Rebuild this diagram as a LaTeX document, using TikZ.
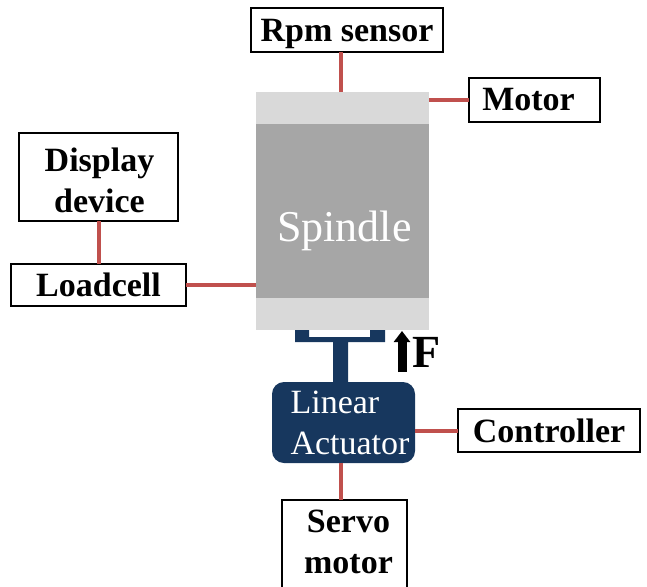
\documentclass[tikz,border=0pt]{standalone}
\usepackage{fontspec}
\setmainfont{Liberation Serif}
\usetikzlibrary{arrows.meta}

\tikzset{
  labelbox/.style={draw=black, fill=white, line width=1.6pt, inner sep=0pt, outer sep=0pt, align=center, font=\fontsize{34}{41}\selectfont\bfseries},
  wire/.style={draw=wirered, line width=4pt},
  block/.style={inner sep=0pt, outer sep=0pt},
}
\definecolor{wirered}{HTML}{C0504D}
\definecolor{navy}{HTML}{17375E}
\definecolor{lightgrey}{HTML}{D9D9D9}
\definecolor{midgrey}{HTML}{A6A6A6}

\begin{document}
\begin{tikzpicture}[x=1pt, y=-1pt]

\useasboundingbox (0,0) rectangle (647,586);
\clip (0,0) rectangle (647,586);

\node[block, fill=lightgrey, minimum width=173pt, minimum height=238pt] (housing) at (342.5,211) {};
\node[block, fill=midgrey, minimum width=173pt, minimum height=174pt, text=white, text height=70pt, font=\fontsize{44}{50}\selectfont] (spindle) at (342.5,211) {\hspace*{4pt}Spindle};
%%

\node[labelbox, minimum width=192pt, minimum height=44pt, text depth=0pt] (rpm) at (347,30) {Rpm sensor};
\node[labelbox, minimum width=131pt, minimum height=44pt] (motor) at (534.5,100) {Motor\hspace*{12pt}};
\node[labelbox, minimum width=159pt, minimum height=88pt, text height=71pt] (display) at (98.5,177) {\hspace*{2pt}Display\\\hspace*{2pt}device};
\node[labelbox, minimum width=175pt, minimum height=42pt] (loadcell) at (98.5,285) {Loadcell};
\node[labelbox, minimum width=182pt, minimum height=43pt] (controller) at (549,430.5) {Controller};
\node[labelbox, minimum width=125pt, minimum height=100pt, text depth=17pt] (servo) at (344.5,550) {\hspace*{8pt}Servo\\\hspace*{8pt}motor};
%%

\node[block, fill=navy, rounded corners=12pt, minimum width=143pt, minimum height=81pt, text=white, align=left, font=\fontsize{34}{41}\selectfont] (actuator) at (343.5,422.5) {\hspace*{13pt}Linear\\\hspace*{13pt}Actuator};
\fill[navy] (295,330) -- (309,330) -- (309,337) -- (370,337) -- (370,330) -- (385,330) -- (385,342) -- (348,342) -- (348,382) -- (333,382) -- (333,342) -- (295,342) -- cycle;
%%

\coordinate (rpmfoot) at (341,52);
\coordinate (servohead) at (341,500);
\draw[wire] (rpmfoot) -- (rpmfoot |- housing.north);
\draw[wire] (motor.west) -- (motor.west -| housing.east);
\draw[wire] (display) -- (loadcell);
\draw[wire] (loadcell.east) -- (loadcell.east -| housing.west);
\draw[wire] (controller.west) -- (controller.west -| actuator.east);
\draw[wire] (servohead) -- (servohead |- actuator.south);
%%

\node[block, font=\fontsize{46}{50}\selectfont\bfseries] (force) at (427,352) {F};
\coordinate (forcetail) at (402,372);
\coordinate (forcetip) at (402,331);
\draw[line width=9pt, -{Triangle[width=16pt, length=11pt]}] (forcetail) -- (forcetip);

\end{tikzpicture}
\end{document}
